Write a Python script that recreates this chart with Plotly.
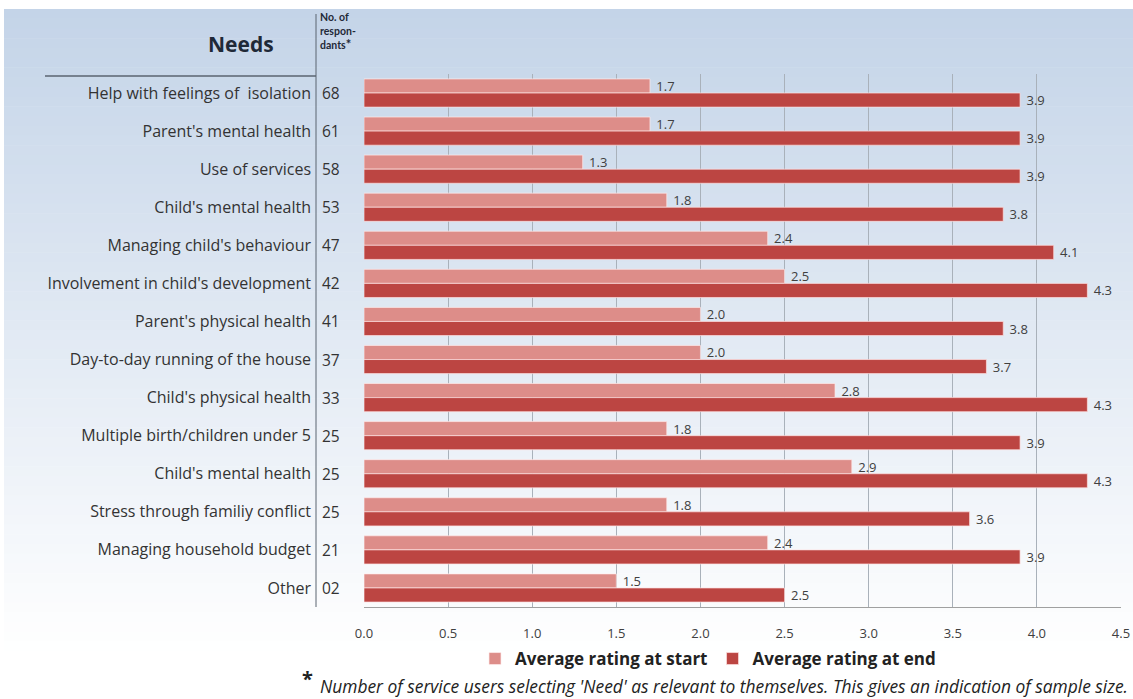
import plotly.graph_objects as go

# ---------------- data ----------------
needs = [
    "Help with feelings of  isolation",
    "Parent's mental health",
    "Use of services",
    "Child's mental health",
    "Managing child's behaviour",
    "Involvement in child's development",
    "Parent's physical health",
    "Day-to-day running of the house",
    "Child's physical health",
    "Multiple birth/children under 5",
    "Child's mental health",
    "Stress through familiy conflict",
    "Managing household budget",
    "Other",
]
respondents = ["68", "61", "58", "53", "47", "42", "41", "37", "33", "25", "25", "25", "21", "02"]
rating_start = [1.7, 1.7, 1.3, 1.8, 2.4, 2.5, 2.0, 2.0, 2.8, 1.8, 2.9, 1.8, 2.4, 1.5]
rating_end = [3.9, 3.9, 3.9, 3.8, 4.1, 4.3, 3.8, 3.7, 4.3, 3.9, 4.3, 3.6, 3.9, 2.5]
x_ticks = [0.0, 0.5, 1.0, 1.5, 2.0, 2.5, 3.0, 3.5, 4.0, 4.5]
header_lines = ["No. of", "respon-", "dants"]

# ---------------- layout geometry ----------------
W, H = 1133, 699
ML, MR, MT, MB = 364, 12, 74, 92
PW, PH = W - ML - MR, H - MT - MB


def px(x):
    return (x - ML) / PW


def py(y):
    return (H - MB - y) / PH


FONT = "'Open Sans', sans-serif"
START_C = "#dd8d89"
END_C = "#bc4542"

rows = list(range(len(needs)))

fig = go.Figure()
fig.add_trace(go.Bar(
    name="Average rating at start", y=rows, x=rating_start, orientation="h",
    marker=dict(color=START_C, line=dict(color="rgba(255,235,235,0.7)", width=1)),
    text=rating_start, texttemplate="\u00a0%{x:.1f}", textposition="outside",
    constraintext="none",
    textfont=dict(size=13, color="#404040", family=FONT), cliponaxis=False,
))
fig.add_trace(go.Bar(
    name="Average rating at end", y=rows, x=rating_end, orientation="h",
    marker=dict(color=END_C, line=dict(color="rgba(255,225,225,0.7)", width=1)),
    text=rating_end, texttemplate="\u00a0%{x:.1f}", textposition="outside",
    constraintext="none",
    textfont=dict(size=13, color="#404040", family=FONT), cliponaxis=False,
))

# background gradient (styling only)
shapes = []
top_c = (196, 212, 232)
y0, y1 = 9, 690
n = 70
for i in range(n):
    a = y0 + (y1 - y0) * i / n
    b = y0 + (y1 - y0) * (i + 1) / n
    t = min(1.0, i / (n - 1) * 1.05)
    c = tuple(int(round(top_c[k] + (255 - top_c[k]) * t)) for k in range(3))
    shapes.append(dict(type="rect", xref="paper", yref="paper",
                       x0=px(4), x1=px(W), y0=py(b + 0.5), y1=py(a),
                       fillcolor="rgb(%d,%d,%d)" % c, line=dict(width=0), layer="below"))

# separator lines
shapes.append(dict(type="line", xref="paper", yref="paper", x0=px(316), x1=px(316),
                   y0=py(14), y1=py(607), line=dict(color="#5a6470", width=1)))
shapes.append(dict(type="line", xref="paper", yref="paper", x0=px(45), x1=px(316),
                   y0=py(76), y1=py(76), line=dict(color="#5a6470", width=1.5)))

annotations = []
for i, r in enumerate(respondents):
    annotations.append(dict(x=px(331), y=i, xref="paper", yref="y", text=r,
                            showarrow=False, xanchor="center", yanchor="middle",
                            font=dict(size=15.5, color="#333333", family=FONT)))

annotations.append(dict(x=px(241), y=py(44), xref="paper", yref="paper",
                        text="<b>Needs</b>", showarrow=False, xanchor="center",
                        yanchor="middle", font=dict(size=21, color="#1f2937", family=FONT)))
for j, line in enumerate(header_lines):
    txt = "<b>%s</b>" % line
    if j == len(header_lines) - 1:
        txt = "<b>%s<span style='font-size:13px'>*</span></b>" % line
    annotations.append(dict(x=px(318), y=py(17 + 13.5 * j), xref="paper", yref="paper",
                            text=txt, showarrow=False, xanchor="left", yanchor="middle",
                            font=dict(size=10.5, color="#1f2937", family="Lato, sans-serif")))
annotations.append(dict(x=px(307), y=py(678), xref="paper", yref="paper",
                        text="<b>*</b>", showarrow=False, xanchor="center", yanchor="middle",
                        font=dict(size=20, color="#222222", family=FONT)))
annotations.append(dict(x=px(318), y=py(686), xref="paper", yref="paper",
                        text="<i>Number of service users selecting 'Need' as relevant to themselves. This gives an indication of sample size.</i>",
                        showarrow=False, xanchor="left", yanchor="middle",
                        font=dict(size=17.4, color="#222222", family=FONT)))

fig.update_layout(
    width=W, height=H,
    margin=dict(l=ML, r=MR, t=MT, b=MB, autoexpand=False),
    paper_bgcolor="white",
    plot_bgcolor="rgba(255,255,255,0.25)",
    barmode="group", bargap=0.26, bargroupgap=0,
    font=dict(family=FONT, color="#333333"),
    shapes=shapes, annotations=annotations,
    legend=dict(orientation="h", x=px(708), xanchor="center", y=py(659), yanchor="middle",
                font=dict(size=17, color="#222222", family=FONT, weight="bold"),
                bgcolor="rgba(0,0,0,0)", traceorder="normal", itemwidth=30,
                tracegroupgap=0),
    xaxis=dict(range=[0, 4.5], tickvals=x_ticks, tickformat=".1f", showgrid=True,
               gridcolor="#a9b1ba", gridwidth=1, zeroline=False, showline=True,
               linecolor="#a0a0a0", linewidth=1, ticks="", ticklabelstandoff=14,
               tickfont=dict(size=13, color="#404040", family=FONT), fixedrange=True),
    yaxis=dict(tickvals=rows, ticktext=needs, showgrid=False,
               zeroline=False, showline=False, ticks="", ticklabelstandoff=52,
               tickfont=dict(size=16, color="#333333", family=FONT),
               autorange=False, range=[len(needs) - 0.5, -0.5]),
)

fig.write_html("out.html")
